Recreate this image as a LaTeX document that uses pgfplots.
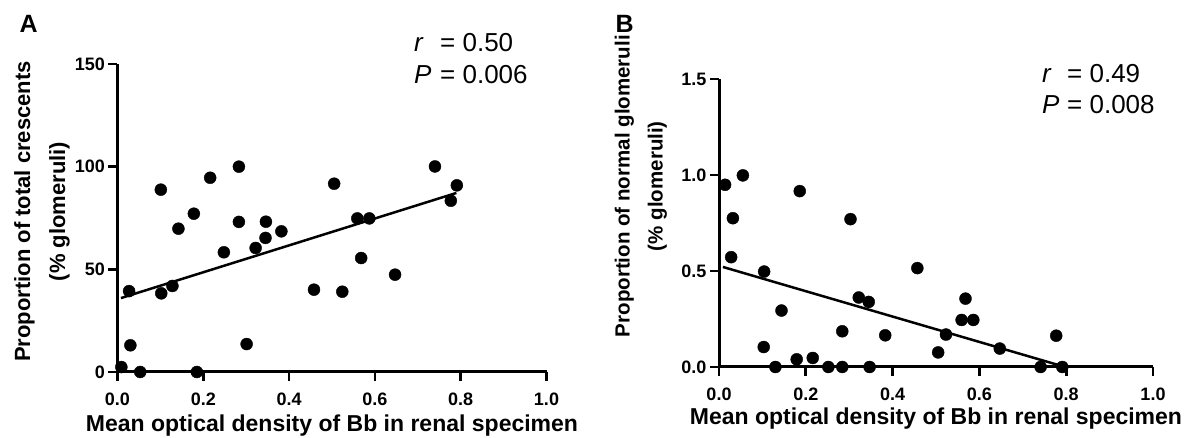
\documentclass[border=0pt]{standalone}
\usepackage{fontspec}
\setmainfont{Liberation Sans}
\usepackage{pgfplots}
\pgfplotsset{compat=1.18}

\pgfplotsset{
  panel/.style={
    scale only axis,
    clip=false,
    axis x line*=bottom,
    axis y line*=left,
    axis line style={line width=3pt, -},
    every tick/.style={line width=2.7pt, black},
    major tick length=9pt,
    tick align=outside,
    xmin=0, xmax=1,
    xtick={0,0.2,0.4,0.6,0.8,1},
    xticklabel style={/pgf/number format/fixed, /pgf/number format/fixed zerofill,
      /pgf/number format/precision=1, yshift=-8pt},
    tick label style={font=\bfseries\fontsize{18}{18}\selectfont},
    /pgf/number format/assume math mode=true,
    xlabel={Mean optical density of Bb in renal specimen},
    xlabel style={font=\bfseries\fontsize{23}{26}\selectfont, at={(axis description cs:0.5,0)}, anchor=base},
    ylabel style={align=center, anchor=center},
  },
  dots/.style={only marks, mark=*, mark size=6pt, black},
  fit/.style={line width=2.5pt, black},
}

\begin{document}
\begin{tikzpicture}
\path[use as bounding box] (0,0) rectangle (1187pt,438pt);

% Panel A
\begin{axis}[panel,
    at={(117.5pt,66pt)}, anchor=south west,
    width=429pt, height=308pt,
    ymin=0, ymax=150,
    ytick={0,50,100,150},
    xlabel style={yshift=-60pt},
    ylabel={Proportion of total crescents\\(\% glomeruli)},
    ylabel style={font=\bfseries\fontsize{22}{35}\selectfont, at={(axis description cs:-0.176,0.521)}},
]
\addplot[dots] coordinates {
  (0.009,2.4) (0.027,39.4) (0.030,13) (0.053,0) (0.101,88.8)
  (0.102,38.3) (0.128,41.9) (0.142,69.8) (0.178,77.1) (0.185,0)
  (0.216,94.6) (0.248,58.3) (0.283,100) (0.283,73.1) (0.301,13.6)
  (0.322,60.4) (0.345,65.3) (0.346,73.2) (0.382,68.5) (0.458,40.1)
  (0.505,91.7) (0.524,39.1) (0.559,74.8) (0.568,55.5) (0.587,74.8)
  (0.647,47.4) (0.740,100.1) (0.777,83.4) (0.791,90.9)
};
\addplot[fit] coordinates {(0.008,36.0) (0.79,87.2)};
\end{axis}

% Panel B
\begin{axis}[panel,
    at={(719pt,71pt)}, anchor=south west,
    width=434pt, height=288pt,
    ymin=0, ymax=1.5,
    ytick={0,0.5,1,1.5},
    yticklabel style={/pgf/number format/fixed, /pgf/number format/fixed zerofill, /pgf/number format/precision=1},
    xlabel style={yshift=-58pt},
    ylabel={Proportion of normal glomeruli\\(\% glomeruli)},
    ylabel style={font=\bfseries\fontsize{20.5}{33}\selectfont, at={(axis description cs:-0.18,0.628)}},
]
\addplot[dots] coordinates {
  (0.014,0.949) (0.055,0.998) (0.032,0.775) (0.028,0.572) (0.104,0.497)
  (0.103,0.104) (0.130,0) (0.144,0.294) (0.179,0.040) (0.186,0.916)
  (0.216,0.047) (0.252,0) (0.284,0) (0.284,0.186) (0.303,0.770)
  (0.322,0.362) (0.345,0.339) (0.347,0) (0.383,0.165) (0.457,0.515)
  (0.505,0.076) (0.523,0.169) (0.559,0.245) (0.568,0.356) (0.586,0.245)
  (0.647,0.096) (0.741,0) (0.777,0.163) (0.791,0)
};
\addplot[fit] coordinates {(0.009,0.521) (0.79,0.005)};
\end{axis}

% panel letters and statistics
\node[anchor=base west, font=\bfseries\fontsize{25}{25}\selectfont] at (16pt,405pt) {A};
\node[anchor=base west, font=\bfseries\fontsize{25}{25}\selectfont] at (612pt,405pt) {B};

\begin{scope}[every node/.style={anchor=base west, inner sep=0pt, font=\fontsize{26}{26}\selectfont}]
\node at (414pt,386pt) {\textit{r}};
\node at (440pt,386pt) {= 0.50};
\node at (414pt,354pt) {\textit{P}};
\node at (440pt,354pt) {= 0.006};
\node at (1042pt,355pt) {\textit{r}};
\node at (1067pt,355pt) {= 0.49};
\node at (1042pt,324pt) {\textit{P}};
\node at (1067pt,324pt) {= 0.008};
\end{scope}
\end{tikzpicture}
\end{document}
